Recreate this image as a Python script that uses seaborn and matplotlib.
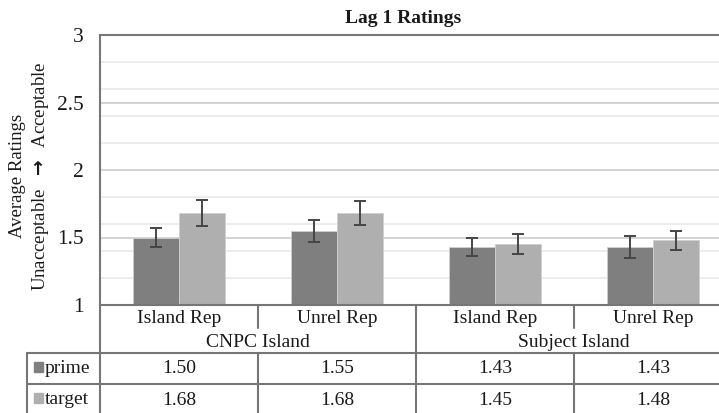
import pandas as pd
import matplotlib
matplotlib.use("Agg")
from matplotlib import pyplot as plt
from matplotlib import transforms
from matplotlib.patches import Rectangle
from matplotlib.ticker import MultipleLocator, FuncFormatter
import seaborn as sns

# Data
conditions = ["Island Rep", "Unrel Rep", "Island Rep", "Unrel Rep"]
islands = ["CNPC Island", "Subject Island"]
series = ["prime", "target"]
prime_means = [1.50, 1.55, 1.43, 1.43]
target_means = [1.68, 1.68, 1.45, 1.48]
prime_err = [0.07, 0.08, 0.065, 0.08]
target_err = [0.095, 0.09, 0.075, 0.07]

# condition names repeat across islands, so make unique cell keys
cells = [islands[i // 2] + "|" + c for i, c in enumerate(conditions)]
df = pd.DataFrame({
    "cell": cells * 2,
    "series": ["prime"] * 4 + ["target"] * 4,
    "rating": prime_means + target_means,
})
errs = {"prime": prime_err, "target": target_err}
means = {"prime": prime_means, "target": target_means}

sns.set_style("white")
plt.rcParams["font.family"] = ["Liberation Serif", "DejaVu Serif"]

W, H = 719, 413
fig = plt.figure(figsize=(W / 100, H / 100), dpi=100)
# plot area runs past the right edge like the cropped original
ax = fig.add_axes([100 / W, 1 - 305 / H, 632 / W, 270 / H])

palette = {"prime": "#7f7f7f", "target": "#afafaf"}
line_col = "#767676"

sns.barplot(data=df, x="cell", y="rating", hue="series", order=cells,
            hue_order=series, palette=palette, width=0.576, errorbar=None,
            saturation=1, edgecolor="#cfcfcf", linewidth=0.6, ax=ax,
            legend=False)

for cont, s in zip(ax.containers, series):
    xs = [b.get_x() + b.get_width() / 2 for b in cont]
    ax.errorbar(xs, means[s], yerr=errs[s], fmt="none", ecolor="#454545",
                elinewidth=1.4, capsize=4.3, capthick=1.4, zorder=5)

ax.set_ylim(1, 3)
ax.set_xlim(-0.5, 3.5)
ax.yaxis.set_major_locator(MultipleLocator(0.5))
ax.yaxis.set_minor_locator(MultipleLocator(0.2))
ax.yaxis.set_major_formatter(FuncFormatter(lambda v, p: f"{v:g}"))
ax.grid(which="minor", axis="y", color="#ececec", lw=1.4)
ax.grid(which="major", axis="y", color="#d4d4d4", lw=1.4)
ax.set_axisbelow(True)
ax.tick_params(axis="y", which="both", length=0, pad=12, labelsize=15.5,
               colors="#1a1a1a")
ax.tick_params(axis="x", length=0, labelbottom=False)
ax.set_xlabel("")
ax.set_ylabel("")
for side in ["top", "left", "bottom"]:
    ax.spines[side].set_color(line_col)
    ax.spines[side].set_linewidth(1.5)
ax.spines["right"].set_visible(False)

# overlay in pixel coordinates for the data table, title and axis label
ov = fig.add_axes([0, 0, 1, 1])
ov.set_xlim(0, W)
ov.set_ylim(H, 0)
ov.axis("off")
tr = transforms.blended_transform_factory(ax.transData, ov.transData)

txt = dict(fontsize=14, color="#1a1a1a")
for i, c in enumerate(conditions):
    ov.text(i, 323.3, c, transform=tr, ha="center", va="baseline", **txt)
    ov.text(i, 373.3, f"{prime_means[i]:.2f}", transform=tr, ha="center",
            va="baseline", **txt)
    ov.text(i, 405, f"{target_means[i]:.2f}", transform=tr, ha="center",
            va="baseline", **txt)
for g, name in enumerate(islands):
    ov.text(0.5 + 2 * g, 346.7, name, transform=tr, ha="center",
            va="baseline", **txt)

lw = 1.5
for y in [352.7, 384]:
    ov.plot([26.7, W + 20], [y, y], color=line_col, lw=lw, clip_on=False)
ov.plot([26.7, 26.7], [352.7, H + 5], color=line_col, lw=lw)
ov.plot([100, 100], [305, H + 5], color=line_col, lw=lw)
for xsep in [0.5, 2.5]:
    ov.plot([xsep, xsep], [305, 328], color=line_col, lw=lw, transform=tr)
    ov.plot([xsep, xsep], [352.7, H + 5], color=line_col, lw=lw, transform=tr)
ov.plot([1.5, 1.5], [305, H + 5], color=line_col, lw=lw, transform=tr)

# legend keys inside the table
for s, y0, yb in [("prime", 362, 372.7), ("target", 393.3, 404.3)]:
    ov.add_patch(Rectangle((34, y0), 9, 10, color=palette[s]))
    ov.text(45, yb, s, ha="left", va="baseline", **txt)

ov.text(403, 23.3, "Lag 1 Ratings", ha="center", va="baseline",
        fontsize=14, fontweight="bold", color="#1a1a1a")
ov.text(30, 176, "Average Ratings\nUnacceptable  $\\mathbf{\\rightarrow}$  Acceptable",
        rotation=90, ha="center", va="center", multialignment="center",
        fontsize=13.5, linespacing=1.3, color="#1a1a1a")

fig.savefig("out.png", dpi=100)
